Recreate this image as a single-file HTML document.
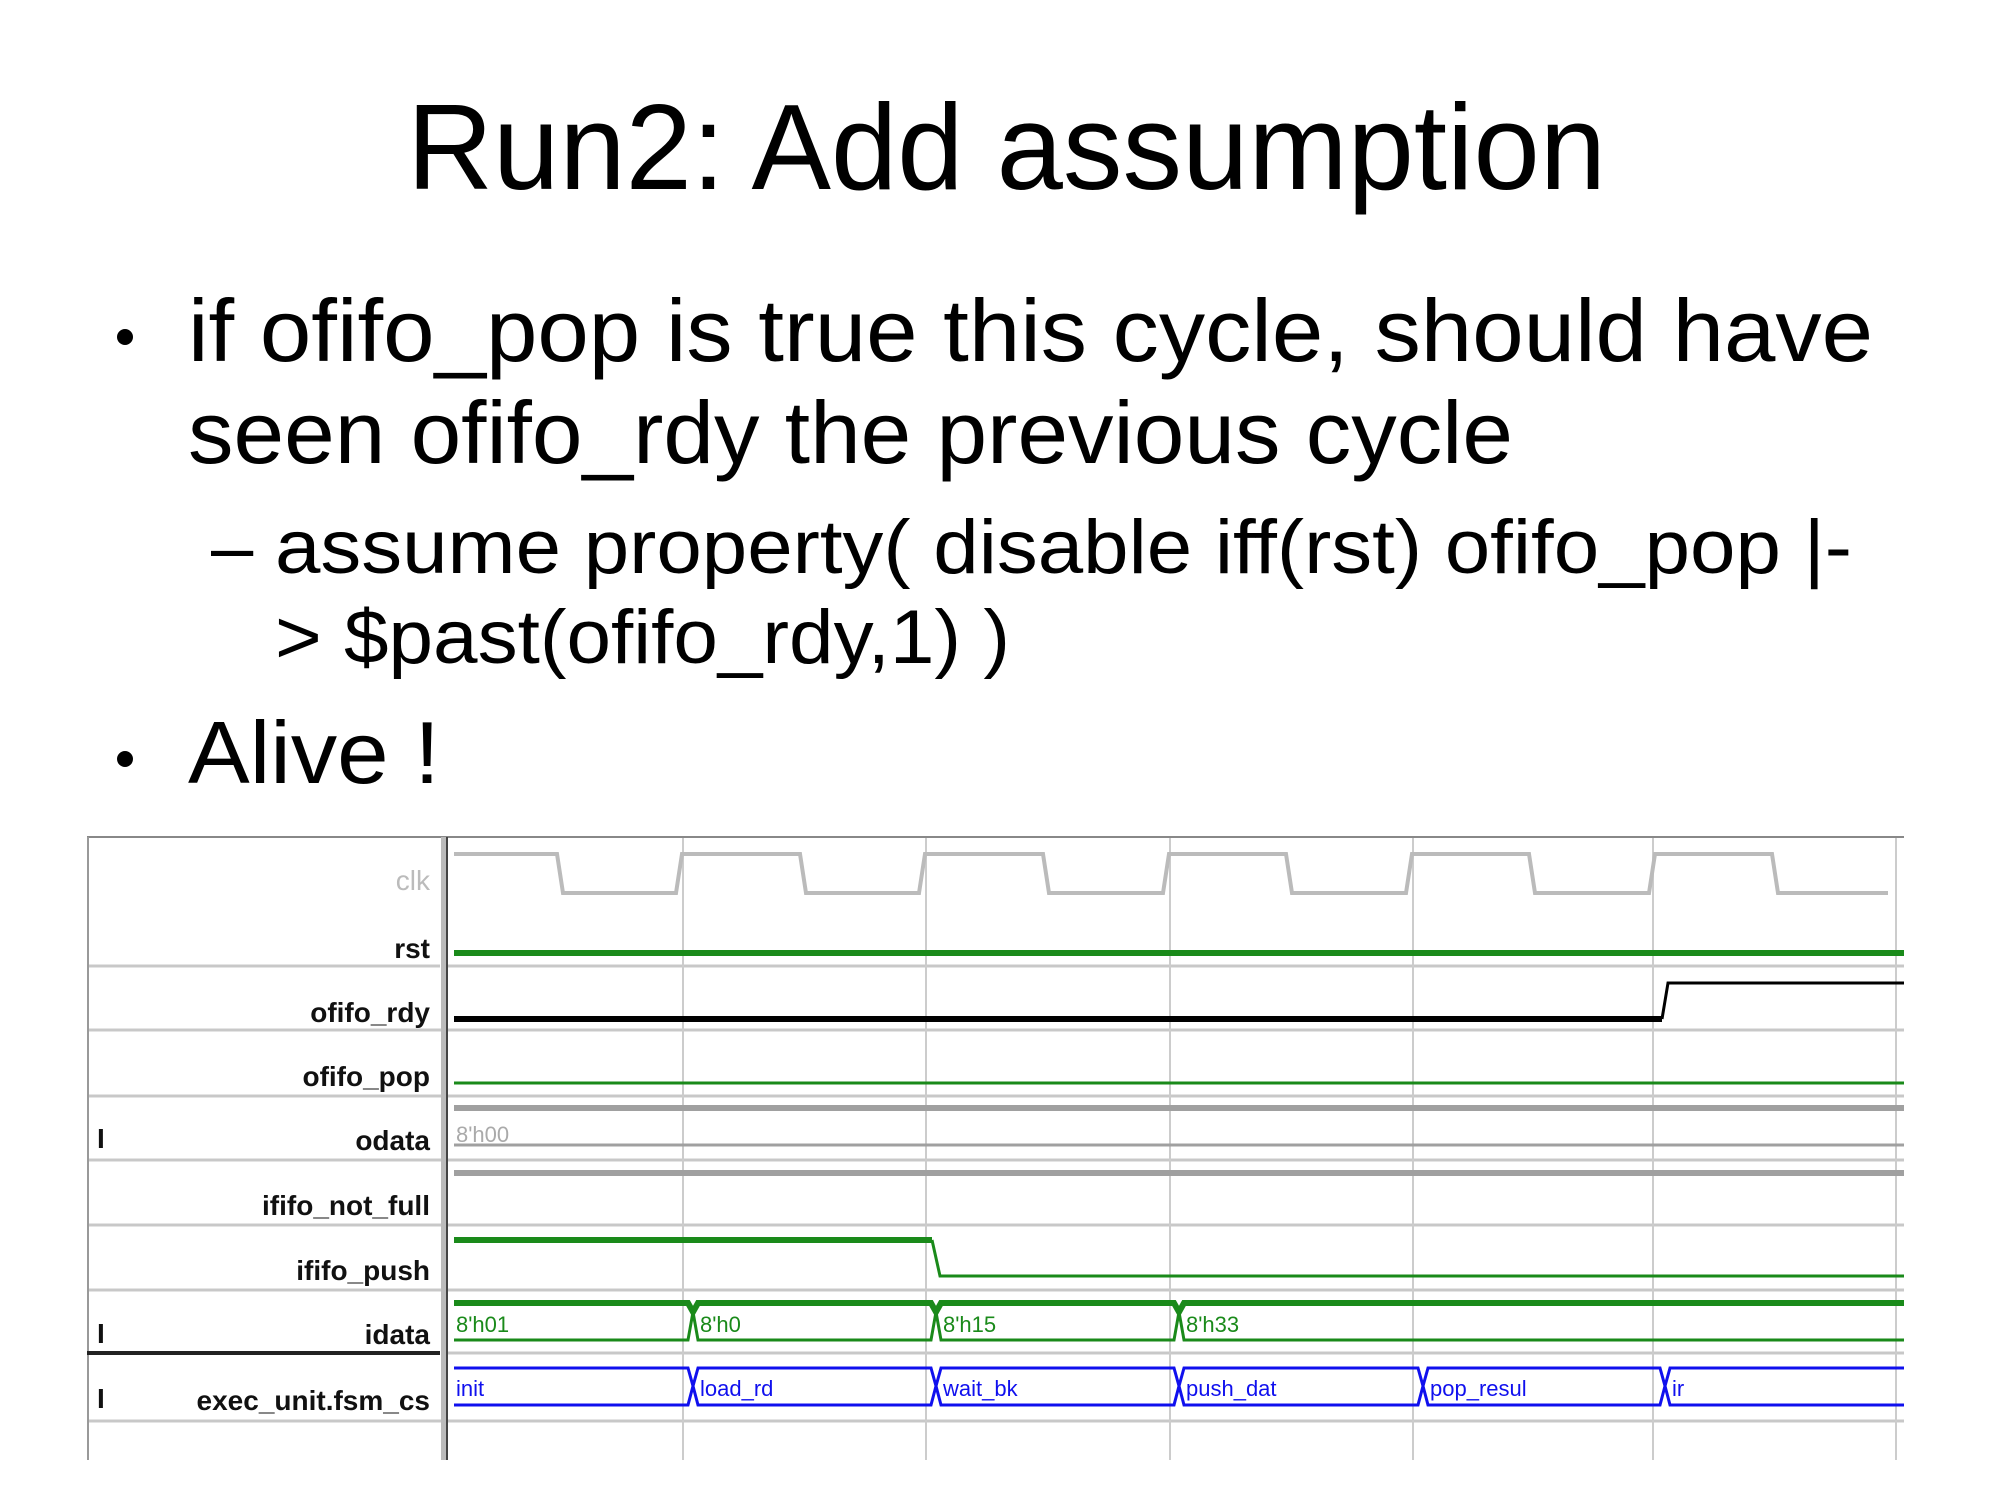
<!DOCTYPE html>
<html><head><meta charset="utf-8"><style>
html,body{margin:0;padding:0;background:#fff;}
svg{display:block;}
</style></head><body>
<svg width="2000" height="1500" viewBox="0 0 2000 1500" xmlns="http://www.w3.org/2000/svg" font-family="'Liberation Sans', sans-serif">
<rect width="2000" height="1500" fill="#fff"/>
<text x="407" y="189" font-size="122" textLength="1199" lengthAdjust="spacingAndGlyphs">Run2: Add assumption</text>
<circle cx="125" cy="337" r="8" fill="#000"/>
<text x="188" y="361" font-size="88" textLength="1685" lengthAdjust="spacingAndGlyphs">if ofifo_pop is true this cycle, should have</text>
<text x="188" y="463" font-size="88" textLength="1325" lengthAdjust="spacingAndGlyphs">seen ofifo_rdy the previous cycle</text>
<text x="211" y="573" font-size="76">–</text>
<text x="275" y="573" font-size="76" textLength="1577" lengthAdjust="spacingAndGlyphs">assume property( disable iff(rst) ofifo_pop |-</text>
<text x="275" y="663" font-size="76" textLength="735" lengthAdjust="spacingAndGlyphs">&gt; $past(ofifo_rdy,1) )</text>
<circle cx="125" cy="759" r="8" fill="#000"/>
<text x="188" y="783" font-size="88" textLength="252" lengthAdjust="spacingAndGlyphs">Alive !</text>

<!-- waveform frame -->
<g stroke="#c8c8c8" stroke-width="3">
<line x1="87" y1="966" x2="440" y2="966"/>
<line x1="87" y1="1030" x2="1904" y2="1030"/>
<line x1="87" y1="1096" x2="1904" y2="1096"/>
<line x1="87" y1="1160" x2="1904" y2="1160"/>
<line x1="87" y1="1225" x2="1904" y2="1225"/>
<line x1="87" y1="1290" x2="1904" y2="1290"/>
<line x1="448" y1="1353" x2="1904" y2="1353"/>
<line x1="87" y1="1421" x2="1904" y2="1421"/>
<line x1="448" y1="966" x2="1904" y2="966"/>
</g>
<g stroke="#ccc" stroke-width="2">
<line x1="683" y1="837" x2="683" y2="1460"/>
<line x1="926" y1="837" x2="926" y2="1460"/>
<line x1="1170" y1="837" x2="1170" y2="1460"/>
<line x1="1413" y1="837" x2="1413" y2="1460"/>
<line x1="1653" y1="837" x2="1653" y2="1460"/>
<line x1="1896" y1="837" x2="1896" y2="1460"/>
</g>
<line x1="87" y1="837" x2="1904" y2="837" stroke="#888" stroke-width="2"/>
<line x1="88" y1="837" x2="88" y2="1460" stroke="#999" stroke-width="2"/>
<line x1="444" y1="837" x2="444" y2="1460" stroke="#bbb" stroke-width="6"/>
<line x1="447" y1="837" x2="447" y2="1460" stroke="#444" stroke-width="2"/>
<line x1="87" y1="1353" x2="440" y2="1353" stroke="#222" stroke-width="4"/>

<!-- labels -->
<g font-size="28" text-anchor="end" fill="#111" font-weight="bold">
<text x="430" y="890" fill="#bbb" font-weight="normal">clk</text>
<text x="430" y="958">rst</text>
<text x="430" y="1022">ofifo_rdy</text>
<text x="430" y="1086">ofifo_pop</text>
<text x="430" y="1150">odata</text>
<text x="430" y="1215">ififo_not_full</text>
<text x="430" y="1280">ififo_push</text>
<text x="430" y="1344">idata</text>
<text x="430" y="1410">exec_unit.fsm_cs</text>
</g>
<g font-size="28" fill="#111" font-weight="bold">
<text x="97" y="1148">I</text>
<text x="97" y="1343">I</text>
<text x="97" y="1408">I</text>
</g>

<!-- clk -->
<polyline fill="none" stroke="#bbb" stroke-width="4" points="454,854 557,854 563,893 676,893 682,854 800,854 806,893 919,893 925,854 1043,854 1049,893 1163,893 1169,854 1286,854 1292,893 1406,893 1412,854 1529,854 1535,893 1649,893 1655,854 1772,854 1778,893 1888,893"/>
<!-- rst -->
<line x1="454" y1="953" x2="1904" y2="953" stroke="#1a8a1a" stroke-width="6"/>
<!-- ofifo_rdy -->
<polyline fill="none" stroke="#000" stroke-width="6" points="454,1019 1662,1019"/>
<polyline fill="none" stroke="#000" stroke-width="3" points="1662,1019 1668,983 1904,983"/>
<!-- ofifo_pop -->
<line x1="454" y1="1083" x2="1904" y2="1083" stroke="#1a8a1a" stroke-width="3"/>
<!-- odata -->
<line x1="454" y1="1108" x2="1904" y2="1108" stroke="#a0a0a0" stroke-width="6"/>
<line x1="454" y1="1145" x2="1904" y2="1145" stroke="#a0a0a0" stroke-width="3"/>
<text x="456" y="1142" font-size="22" fill="#aaa">8'h00</text>
<line x1="454" y1="1173" x2="1904" y2="1173" stroke="#a0a0a0" stroke-width="6"/>
<!-- ififo_push -->
<polyline fill="none" stroke="#1a8a1a" stroke-width="6" points="454,1240 932,1240"/>
<polyline fill="none" stroke="#1a8a1a" stroke-width="3" points="932,1240 940,1276 1904,1276"/>
<!-- idata -->
<g fill="none" stroke="#1a8a1a">
<polyline stroke-width="6" points="454,1303 688,1303 693,1312 698,1303 931,1303 936,1312 941,1303 1174,1303 1179,1312 1184,1303 1904,1303"/>
<polyline stroke-width="3" points="454,1340 688,1340 693,1312 698,1340 931,1340 936,1312 941,1340 1174,1340 1179,1312 1184,1340 1904,1340"/>
</g>
<g font-size="22" fill="#1a8a1a">
<text x="456" y="1332">8'h01</text>
<text x="700" y="1332">8'h0</text>
<text x="943" y="1332">8'h15</text>
<text x="1186" y="1332">8'h33</text>
</g>
<!-- fsm -->
<g fill="none" stroke="#1010ee" stroke-width="3">
<polyline points="454,1368 688,1368 693,1386 698,1368 931,1368 936,1386 941,1368 1174,1368 1179,1386 1184,1368 1418,1368 1423,1386 1428,1368 1660,1368 1665,1386 1670,1368 1904,1368"/>
<polyline points="454,1405 688,1405 693,1386 698,1405 931,1405 936,1386 941,1405 1174,1405 1179,1386 1184,1405 1418,1405 1423,1386 1428,1405 1660,1405 1665,1386 1670,1405 1904,1405"/>
</g>
<g font-size="22" fill="#1010ee">
<text x="456" y="1396">init</text>
<text x="700" y="1396">load_rd</text>
<text x="943" y="1396">wait_bk</text>
<text x="1186" y="1396">push_dat</text>
<text x="1430" y="1396">pop_resul</text>
<text x="1672" y="1396">ir</text>
</g>
</svg>
</body></html>
